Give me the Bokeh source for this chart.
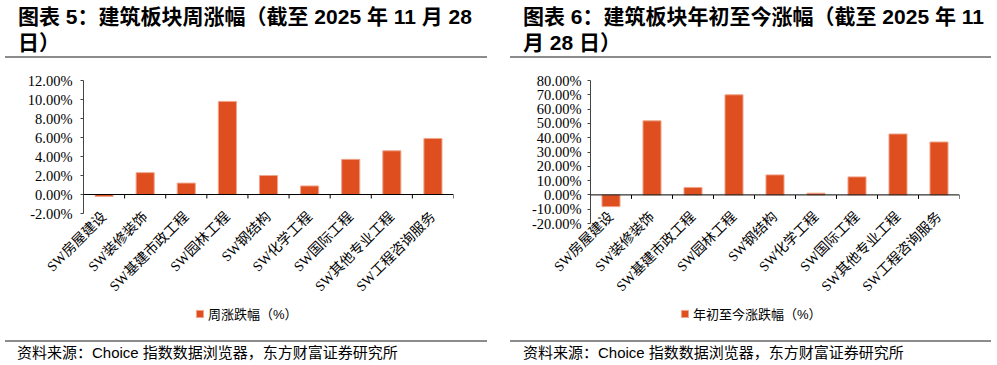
import math
from bokeh.plotting import figure
from bokeh.models import (Range1d, FactorRange, PrintfTickFormatter, FixedTicker,
                          Span, Legend, LegendItem, Div, ColumnDataSource)
from bokeh.layouts import row, column
from bokeh.embed import file_html
from bokeh.resources import INLINE

# ---------------- data ----------------
categories = ["SW房屋建设", "SW装修装饰", "SW基建市政工程", "SW园林工程", "SW钢结构",
              "SW化学工程", "SW国际工程", "SW其他专业工程", "SW工程咨询服务"]
weekly_change = [-0.2, 2.3, 1.2, 9.8, 2.0, 0.9, 3.7, 4.6, 5.9]
ytd_change = [-8.2, 51.8, 5.2, 70.0, 14.0, 1.2, 12.6, 42.6, 37.0]
weekly_ticks = [-2, 0, 2, 4, 6, 8, 10, 12]
ytd_ticks = [-20, -10, 0, 10, 20, 30, 40, 50, 60, 70, 80]

title_left = "图表 5：建筑板块周涨幅（截至 2025 年 11 月 28<br>日）"
title_right = "图表 6：建筑板块年初至今涨幅（截至 2025 年 11<br>月 28 日）"
legend_left = "周涨跌幅（%）"
legend_right = "年初至今涨跌幅（%）"
source_text = "资料来源：Choice 指数数据浏览器，东方财富证券研究所"

BAR = "#DE4E1E"
BAR_EDGE = "#F0A68C"
SERIF = "'Liberation Serif', 'Noto Sans CJK SC'"
SANS = "'Liberation Sans', 'Noto Sans CJK SC'"
RULE = "#8c8c8c"
CHART_H = 249
LEGEND_H = 33


def make_chart(src, ticks, width, b_left, frame_w, frame_h, standoff, x_standoff):
    b_top = 22
    b_bottom = CHART_H - b_top - frame_h
    y0, y1 = ticks[0], ticks[-1]
    p = figure(width=width, height=CHART_H, x_range=FactorRange(*categories),
               y_range=Range1d(y0, y1), output_backend="svg", toolbar_location=None,
               min_border_left=b_left, min_border_right=width - b_left - frame_w,
               min_border_top=b_top, min_border_bottom=b_bottom)
    p.outline_line_color = None
    p.xgrid.visible = False
    p.ygrid.visible = False
    p.background_fill_color = "white"
    p.border_fill_color = "white"

    p.vbar(x="cat", top="val", bottom=0, width=0.44, source=src,
           fill_color=BAR, line_color=BAR_EDGE, line_width=1)

    # zero line with boundary ticks
    p.add_layout(Span(location=0, dimension="width", line_color="black", line_width=1))
    tick_len = 4 * (y1 - y0) / frame_h
    bounds = list(range(1, len(categories) + 1))
    p.segment(x0=bounds, x1=bounds, y0=[0] * len(bounds), y1=[-tick_len] * len(bounds),
              line_color="black", line_width=1)

    # y axis
    ya = p.yaxis[0]
    ya.ticker = FixedTicker(ticks=ticks)
    ya.formatter = PrintfTickFormatter(format="%.2f%%")
    ya.axis_line_color = "#444444"
    ya.major_tick_line_color = "#444444"
    ya.major_tick_in = 0
    ya.major_tick_out = 3
    ya.minor_tick_line_color = None
    ya.major_label_standoff = standoff
    ya.major_label_text_font = SERIF
    ya.major_label_text_font_size = "14.5px"
    ya.major_label_text_color = "black"

    # x axis (labels only, low position)
    xa = p.xaxis[0]
    xa.axis_line_color = None
    xa.major_tick_line_color = None
    xa.minor_tick_line_color = None
    xa.major_tick_out = 0
    xa.major_tick_in = 0
    xa.major_label_orientation = math.pi / 4
    xa.major_label_standoff = x_standoff
    xa.major_label_text_font = SERIF
    xa.major_label_text_font_size = "14px"
    xa.major_label_text_color = "black"
    return p


def make_legend(src, label, width, leg_x):
    # legend-only strip: the swatch renderer shares the chart data but its
    # y range lies far away from the values, so only the legend entry shows
    p = figure(width=width, height=LEGEND_H, x_range=FactorRange(*categories),
               y_range=Range1d(1000, 1001), output_backend="svg", toolbar_location=None,
               x_axis_location=None, y_axis_location=None, min_border=0)
    p.outline_line_color = None
    p.xgrid.visible = False
    p.ygrid.visible = False
    p.background_fill_color = "white"
    p.border_fill_color = "white"
    swatch = p.vbar(x="cat", top="val", bottom=0, width=0.44, source=src,
                    fill_color=BAR, line_color=BAR_EDGE)
    legend = Legend(items=[LegendItem(label=label, renderers=[swatch])],
                    location=(leg_x, 17), orientation="horizontal",
                    border_line_color=None, background_fill_alpha=0,
                    padding=0, margin=0, spacing=0,
                    glyph_width=9, glyph_height=9, label_height=14,
                    label_standoff=4, label_text_font=SANS,
                    label_text_font_size="13px", label_text_color="black")
    p.add_layout(legend)
    return p


def title_div(text, width, indent):
    html = (f'<div style="width:{width}px;height:58px;box-sizing:border-box;'
            f'border-bottom:2px solid {RULE};padding-left:{indent}px;padding-top:4px;'
            f'font-family:{SANS};font-weight:bold;font-size:21px;line-height:26px;'
            f'color:#000;white-space:nowrap;">{text}</div>')
    return Div(text=html, width=width, height=58, margin=0)


def source_div(text, width, indent):
    html = (f'<div style="width:{width}px;height:21px;box-sizing:border-box;'
            f'border-top:2px solid {RULE};padding-left:{indent}px;padding-top:3px;'
            f'font-family:{SANS};font-size:15px;line-height:16px;color:#000;'
            f'white-space:nowrap;">{text}</div>')
    return Div(text=html, width=width, height=21, margin=0)


src_left = ColumnDataSource(dict(cat=categories, val=weekly_change))
src_right = ColumnDataSource(dict(cat=categories, val=ytd_change))

left_w, right_w = 482, 481
p_left = make_chart(src_left, weekly_ticks, left_w, 78, 370, 133, 8, 1)
p_right = make_chart(src_right, ytd_ticks, right_w, 80, 369, 143, 6, -9)
l_left = make_legend(src_left, legend_left, left_w, 112)
l_right = make_legend(src_right, legend_right, right_w, 90)

col_left = column(title_div(title_left, left_w, 13), p_left, l_left,
                  source_div(source_text, left_w, 12), spacing=0)
col_right = column(title_div(title_right, right_w, 13), p_right, l_right,
                   source_div(source_text, right_w, 13), spacing=0)
layout = row(col_left, col_right, spacing=23, margin=(0, 0, 0, 5))

open("out.html", "w").write(file_html(layout, INLINE))
